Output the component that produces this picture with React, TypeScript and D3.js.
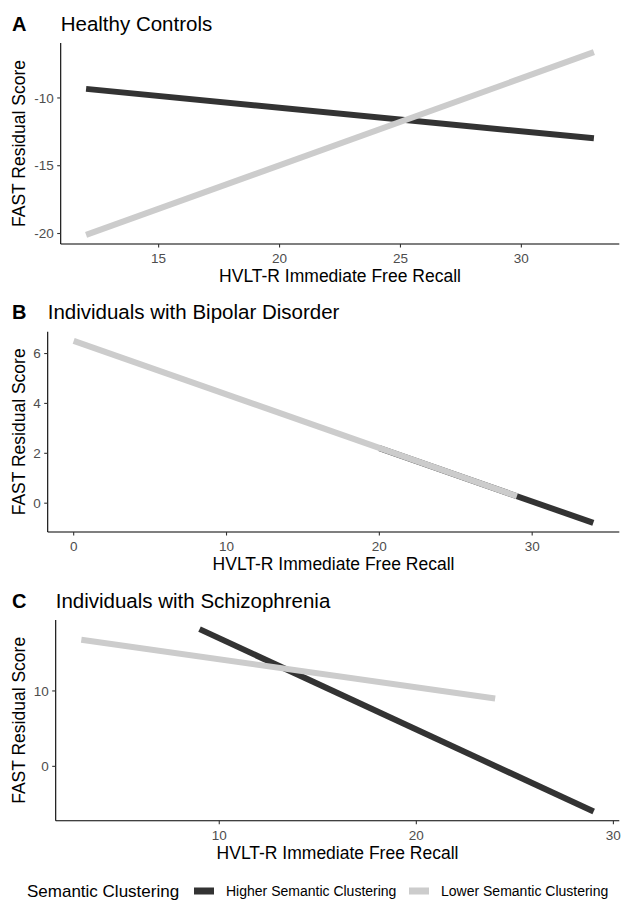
import React from "react";
import * as d3 from "d3";

const W = 622;
const H = 901;

const panelLetters = ["A", "B", "C"];
const panelTitles = ["Healthy Controls", "Individuals with Bipolar Disorder", "Individuals with Schizophrenia"];
const seriesNames = ["Higher Semantic Clustering", "Lower Semantic Clustering"];
const seriesColors = ["#333333", "#cccccc"];

// Panel A: Healthy Controls
const hcHigherX = [12, 33];
const hcHigherY = [-9.33, -12.98];
const hcLowerX = [12, 33];
const hcLowerY = [-20.1, -6.62];
const hcXTicks = [15, 20, 25, 30];
const hcYTicks = [-20, -15, -10];

// Panel B: Bipolar Disorder
const bdHigherX = [20, 34];
const bdHigherY = [2.21, -0.79];
const bdLowerX = [0, 29];
const bdLowerY = [6.51, 0.28];
const bdXTicks = [0, 10, 20, 30];
const bdYTicks = [0, 2, 4, 6];

// Panel C: Schizophrenia
const szHigherX = [9, 29];
const szHigherY = [18.2, -6.0];
const szLowerX = [3, 24];
const szLowerY = [16.8, 9.0];
const szXTicks = [10, 20, 30];
const szYTicks = [0, 10];

const xTitle = "HVLT-R Immediate Free Recall";
const yTitle = "FAST Residual Score";
const legendTitle = "Semantic Clustering";

const FONT = "'Liberation Sans', Arial, Helvetica, sans-serif";

type Series = { xs: number[]; ys: number[] };
type PanelSpec = {
  letter: string;
  title: string;
  series: Series[];
  xTicks: number[];
  yTicks: number[];
  left: number;
  top: number;
  bottom: number;
};

const panels: PanelSpec[] = [
  { letter: panelLetters[0], title: panelTitles[0], series: [{ xs: hcHigherX, ys: hcHigherY }, { xs: hcLowerX, ys: hcLowerY }], xTicks: hcXTicks, yTicks: hcYTicks, left: 60.7, top: 43, bottom: 244 },
  { letter: panelLetters[1], title: panelTitles[1], series: [{ xs: bdHigherX, ys: bdHigherY }, { xs: bdLowerX, ys: bdLowerY }], xTicks: bdXTicks, yTicks: bdYTicks, left: 47.7, top: 331.7, bottom: 532 },
  { letter: panelLetters[2], title: panelTitles[2], series: [{ xs: szHigherX, ys: szHigherY }, { xs: szLowerX, ys: szLowerY }], xTicks: szXTicks, yTicks: szYTicks, left: 55.7, top: 620, bottom: 820.7 },
];

const RIGHT = 619.3;

function expand(vals: number[]): [number, number] {
  const lo = d3.min(vals) as number;
  const hi = d3.max(vals) as number;
  const pad = (hi - lo) * 0.05;
  return [lo - pad, hi + pad];
}

function Panel({ p }: { p: PanelSpec }) {
  const allX = p.series.flatMap((s) => s.xs);
  const allY = p.series.flatMap((s) => s.ys);
  const x = d3.scaleLinear().domain(expand(allX)).range([p.left, RIGHT]);
  const y = d3.scaleLinear().domain(expand(allY)).range([p.bottom, p.top]);
  const line = d3
    .line<[number, number]>()
    .x((d) => x(d[0]))
    .y((d) => y(d[1]));
  const midX = (p.left + RIGHT) / 2;
  const midY = (p.top + p.bottom) / 2;
  return (
    <g>
      <text x={12} y={p.top - 12.3} fontFamily={FONT} fontSize={20} fontWeight="bold" fill="#000">
        {p.letter}
      </text>
      <text x={p.left} y={p.top - 12.3} fontFamily={FONT} fontSize={20.5} fill="#000">
        {p.title}
      </text>
      {p.series.map((s, i) => (
        <path
          key={i}
          d={line(s.xs.map((v, k) => [v, s.ys[k]] as [number, number])) || ""}
          stroke={seriesColors[i]}
          strokeWidth={6}
          fill="none"
          strokeLinecap="butt"
        />
      ))}
      <line x1={p.left} x2={p.left} y1={p.top} y2={p.bottom} stroke="#000" strokeWidth={1.1} />
      <line x1={p.left} x2={RIGHT} y1={p.bottom} y2={p.bottom} stroke="#000" strokeWidth={1.1} />
      {p.xTicks.map((t) => (
        <g key={"x" + t}>
          <line x1={x(t)} x2={x(t)} y1={p.bottom} y2={p.bottom + 3.5} stroke="#333" strokeWidth={1.1} />
          <text x={x(t)} y={p.bottom + 19} textAnchor="middle" fontFamily={FONT} fontSize={13.5} fill="#4d4d4d">
            {t}
          </text>
        </g>
      ))}
      {p.yTicks.map((t) => (
        <g key={"y" + t}>
          <line x1={p.left - 3.5} x2={p.left} y1={y(t)} y2={y(t)} stroke="#333" strokeWidth={1.1} />
          <text x={p.left - 7} y={y(t)} dy="0.35em" textAnchor="end" fontFamily={FONT} fontSize={13.5} fill="#4d4d4d">
            {t}
          </text>
        </g>
      ))}
      <text x={midX} y={p.bottom + 38} textAnchor="middle" fontFamily={FONT} fontSize={17.5} fill="#000">
        {xTitle}
      </text>
      <text
        transform={`translate(25,${midY}) rotate(-90)`}
        textAnchor="middle"
        fontFamily={FONT}
        fontSize={17.5}
        fill="#000"
      >
        {yTitle}
      </text>
    </g>
  );
}

export default function App() {
  const legendY = 891;
  const keyXs = [194, 409];
  return (
    <svg
      width={W}
      height={H}
      style={{ position: "absolute", left: 0, top: 0, background: "#fff" }}
    >
      <rect width={W} height={H} fill="#fff" />
      {panels.map((p, i) => (
        <Panel key={i} p={p} />
      ))}
      <text x={27} y={legendY} dy="0.35em" fontFamily={FONT} fontSize={17} fill="#000">
        {legendTitle}
      </text>
      {seriesNames.map((n, i) => (
        <g key={n}>
          <rect x={keyXs[i]} y={legendY - 3.5} width={20} height={7} fill={seriesColors[i]} />
          <text x={keyXs[i] + 32} y={legendY} dy="0.35em" fontFamily={FONT} fontSize={14} fill="#000">
            {n}
          </text>
        </g>
      ))}
    </svg>
  );
}
